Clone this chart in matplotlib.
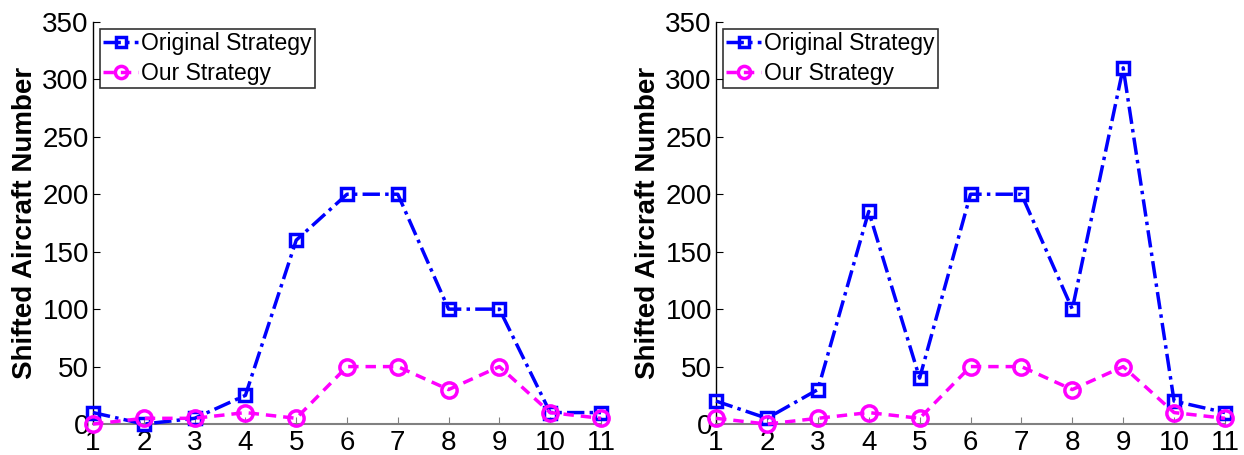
import numpy as np
import matplotlib.pyplot as plt

plt.rcParams['font.family'] = ['Liberation Sans', 'DejaVu Sans']

periods = list(range(1, 12))
orig_left = [10, 0, 5, 25, 160, 200, 200, 100, 100, 10, 10]
ours_left = [0, 5, 5, 10, 5, 50, 50, 30, 50, 10, 5]
orig_right = [20, 5, 30, 185, 40, 200, 200, 100, 310, 20, 10]
ours_right = [5, 0, 5, 10, 5, 50, 50, 30, 50, 10, 5]
yticks = [0, 50, 100, 150, 200, 250, 300, 350]

fig = plt.figure(figsize=(12.44, 4.55), dpi=100)
ax1 = fig.add_axes([0.0748, 0.068, 0.4083, 0.884])
ax2 = fig.add_axes([0.5756, 0.068, 0.4091, 0.884])

for ax, orig, ours in [(ax1, orig_left, ours_left), (ax2, orig_right, ours_right)]:
    ax.plot(periods, orig, color='#0000ff', linestyle=(0, (5, 1.5, 1, 1.5)), linewidth=2.5,
            marker='s', markersize=9, markerfacecolor='none', markeredgewidth=2.5,
            label='Original Strategy', clip_on=False, zorder=3)
    ax.plot(periods, ours, color='#ff00ff', linestyle=(0, (3, 2)), linewidth=2.5,
            marker='o', markersize=11, markerfacecolor='none', markeredgewidth=2.5,
            label='Our Strategy', clip_on=False, zorder=3)
    ax.set_xlim(1, 11)
    ax.set_ylim(0, 350)
    ax.set_xticks(periods)
    ax.set_yticks(yticks)
    ax.spines['top'].set_visible(False)
    ax.spines['right'].set_visible(False)
    ax.spines['bottom'].set_color('#808080')
    ax.spines['bottom'].set_linewidth(1.5)
    ax.spines['left'].set_linewidth(1.0)
    ax.tick_params(axis='both', direction='in', labelsize=20, length=5)
    ax.tick_params(axis='y', pad=3)
    ax.tick_params(axis='x', colors='#808080', labelcolor='black', pad=4)
    ax.set_ylabel('Shifted Aircraft Number', fontsize=20, fontweight='bold', labelpad=3)
    leg = ax.legend(loc='upper left', fontsize=16.5, frameon=True, fancybox=False,
                    edgecolor='black', borderpad=0.15, labelspacing=0.3,
                    handlelength=1.5, handletextpad=0.15, borderaxespad=0.3,
                    markerscale=0.8)
    leg.get_frame().set_linewidth(1.2)

fig.savefig('out.png', dpi=100)
